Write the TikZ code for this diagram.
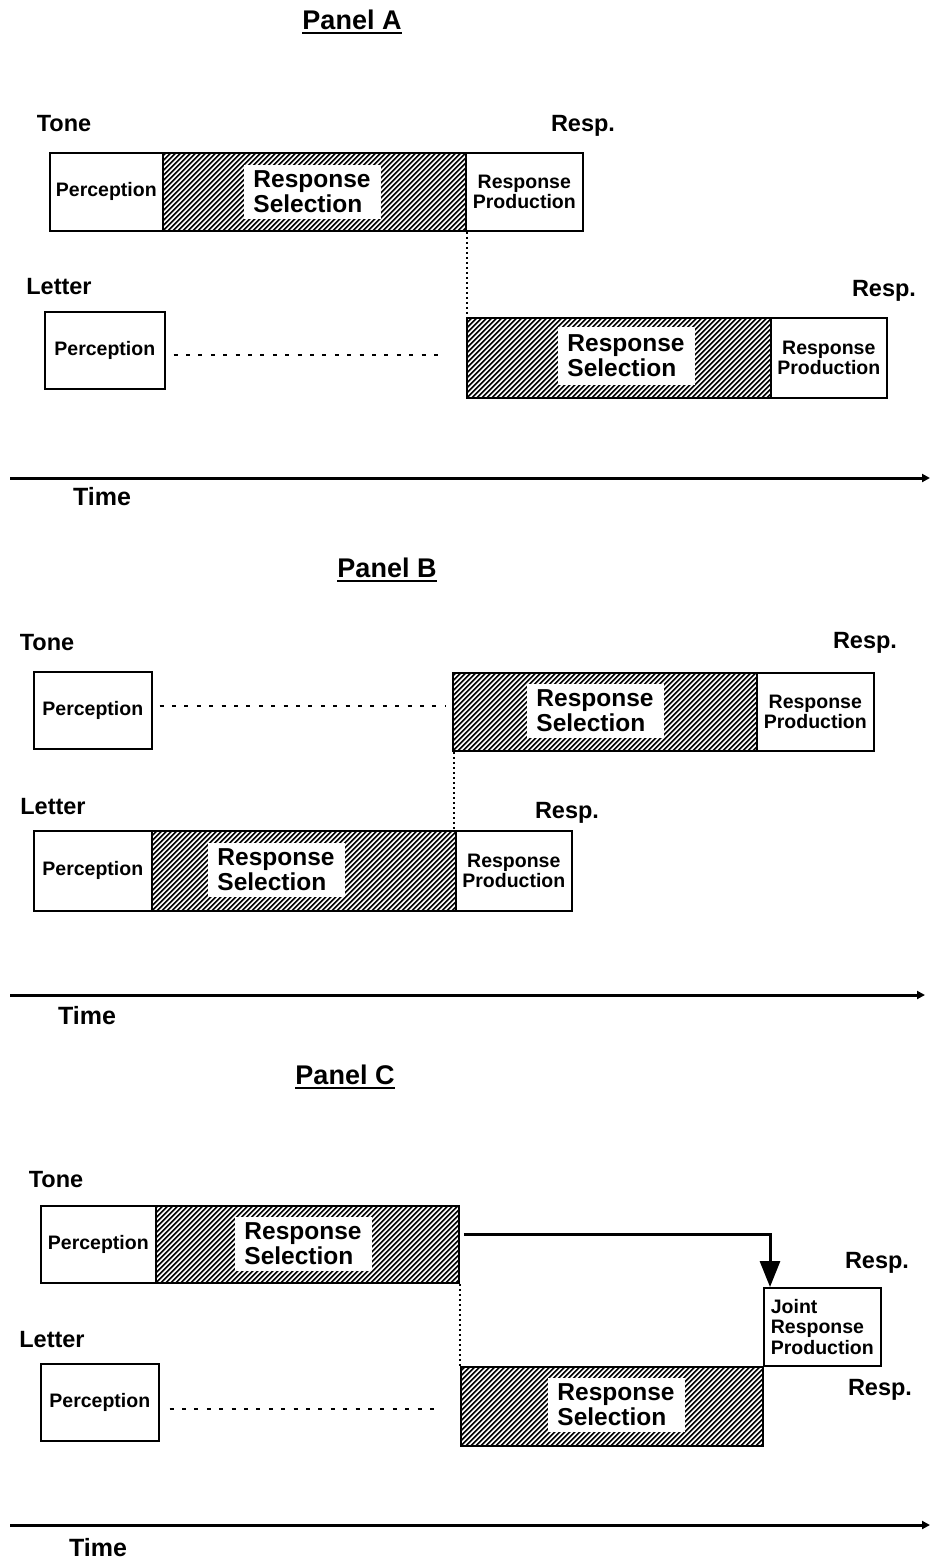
\documentclass[tikz,border=0pt]{standalone}
\usepackage{fontspec}
\setmainfont{Liberation Sans}
\usetikzlibrary{arrows.meta,calc}
\newcommand\ulbar[1]{\setbox0\hbox{#1}\rlap{\rule[-5pt]{\wd0}{2pt}}\box0}
\tikzset{
  box/.style={draw, line width=1.6pt, inner sep=0pt, anchor=north west, align=center,
    font=\bfseries\fontsize{19.5}{20.5}\selectfont},
  hatchbox/.style={draw, line width=1.8pt, inner sep=0pt, anchor=north west,
    path picture={
      \foreach \k in {0,5,...,420}
        \draw[line width=1.6pt] ([xshift=\k pt-100pt]path picture bounding box.south west) -- ++(100pt,100pt);
    }},
  selbox/.style={fill=white, inner sep=0pt, minimum width=137pt, minimum height=54pt,
    align=left, font=\bfseries\fontsize{24.5}{25}\selectfont},
  lbl/.style={inner sep=0pt, font=\bfseries\fontsize{23.5}{24}\selectfont},
  ttl/.style={inner sep=0pt, font=\bfseries\fontsize{27}{28}\selectfont},
  timelbl/.style={inner sep=0pt, font=\bfseries\fontsize{25}{26}\selectfont},
  axis/.style={line width=3pt, -{Triangle[length=8pt,width=8pt]}},
  waitline/.style={line width=2.2pt, dash pattern=on 4pt off 8.4pt},
  dotline/.style={line width=2pt, dash pattern=on 2pt off 3pt},
  joinarrow/.style={line width=3pt, -{Triangle[length=26pt,width=20pt]}},
}
\begin{document}
\begin{tikzpicture}[x=1pt,y=-1pt]
\path[use as bounding box, fill=white] (0,0) rectangle (930,1562);

% ---------------- Panel A ----------------
\node[ttl] (tA) at (352,22) {\ulbar{Panel A}};
\node[lbl] (aTone) at (64,124) {Tone};
\node[lbl] (aResp1) at (583,126) {Resp.};
\node[box, minimum width=113pt, minimum height=78pt] (aTP) at (49,152) {Perception};
\node[hatchbox, minimum width=303pt, minimum height=78pt] (aTS) at (162,152) {};
\node[box, minimum width=117pt, minimum height=78pt] (aTR) at (465,152) {Response\\Production};
\node[selbox] (aTSt) at (312,192) {Response\\Selection};

\node[lbl] (aLetter) at (59,287) {Letter};
\node[lbl] (aResp2) at (884,291) {Resp.};
\node[box, minimum width=120pt, minimum height=77pt] (aLP) at (44,311) {Perception};
\node[hatchbox, minimum width=304pt, minimum height=80pt] (aLS) at (466,317) {};
\node[box, minimum width=116pt, minimum height=80pt] (aLR) at (770,317) {Response\\Production};
\node[selbox, minimum height=58pt] (aLSt) at (626,356) {Response\\Selection};
\draw[dotline] (aTS.south east) -- (aTS.south east |- aLS.north);
\coordinate (aW0) at ([xshift=8pt,yshift=-5pt]aLP.east);
\coordinate (aW1) at ([xshift=-21pt]aLS.west);
\draw[waitline] (aW0) -- (aW1 |- aW0);

\coordinate (aAx0) at (10,478);
\coordinate (aAx1) at (930,478);
\draw[axis] (aAx0) -- (aAx1);
\node[timelbl] (aTime) at (102,497) {Time};

% ---------------- Panel B ----------------
\node[ttl] (tB) at (387,570) {\ulbar{Panel B}};
\node[lbl] (bTone) at (47,643) {Tone};
\node[lbl] (bResp1) at (865,643) {Resp.};
\node[box, minimum width=118pt, minimum height=77pt] (bTP) at (33,671) {Perception};
\node[hatchbox, minimum width=304pt, minimum height=78pt] (bTS) at (452,672) {};
\node[box, minimum width=117pt, minimum height=78pt] (bTR) at (756,672) {Response\\Production};
\node[selbox] (bTSt) at (595,711) {Response\\Selection};
\coordinate (bW0) at ([xshift=7pt,yshift=4pt]bTP.east);
\coordinate (bW1) at ([xshift=-7pt]bTS.west);
\draw[waitline] (bW0) -- (bW1 |- bW0);

\node[lbl] (bLetter) at (53,807) {Letter};
\node[lbl] (bResp2) at (567,813) {Resp.};
\node[box, minimum width=118pt, minimum height=80pt] (bLP) at (33,830) {Perception};
\node[hatchbox, minimum width=304pt, minimum height=80pt] (bLS) at (151,830) {};
\node[box, minimum width=116pt, minimum height=80pt] (bLR) at (455,830) {Response\\Production};
\node[selbox] (bLSt) at (276,870) {Response\\Selection};
\draw[dotline] ([xshift=1.5pt]bTS.south west) -- ([xshift=1.5pt]bTS.south west |- bLS.north);

\coordinate (bAx0) at (10,995);
\coordinate (bAx1) at (925,995);
\draw[axis] (bAx0) -- (bAx1);
\node[timelbl] (bTime) at (87,1016) {Time};

% ---------------- Panel C ----------------
\node[ttl] (tC) at (345,1077) {\ulbar{Panel C}};
\node[lbl] (cTone) at (56,1180) {Tone};
\node[box, minimum width=115pt, minimum height=77pt] (cTP) at (40,1205) {Perception};
\node[hatchbox, minimum width=303pt, minimum height=77pt] (cTS) at (155,1205) {};
\node[selbox] (cTSt) at (303,1244) {Response\\Selection};

\node[lbl] (cResp1) at (877,1263) {Resp.};
\node[box, minimum width=117pt, minimum height=78pt, align=left] (cJ) at (763,1287) {Joint\\Response\\Production};
\draw[joinarrow] ([xshift=4pt,yshift=10pt]cTS.east) -| ([xshift=7pt]cJ.north west);

\node[lbl] (cLetter) at (52,1340) {Letter};
\node[lbl] (cResp2) at (880,1390) {Resp.};
\node[box, minimum width=118pt, minimum height=77pt] (cLP) at (40,1363) {Perception};
\node[hatchbox, minimum width=302pt, minimum height=79pt] (cLS) at (460,1366) {};
\node[selbox] (cLSt) at (616,1405) {Response\\Selection};
\draw[dotline] (cLS.north west |- cTS.south) -- (cLS.north west);
\coordinate (cW0) at ([xshift=10pt,yshift=-6.5pt]cLP.east);
\coordinate (cW1) at ([xshift=-25pt]cLS.west);
\draw[waitline] (cW0) -- (cW1 |- cW0);

\coordinate (cAx0) at (10,1525);
\coordinate (cAx1) at (930,1525);
\draw[axis] (cAx0) -- (cAx1);
\node[timelbl] (cTime) at (98,1548) {Time};
\end{tikzpicture}
\end{document}
